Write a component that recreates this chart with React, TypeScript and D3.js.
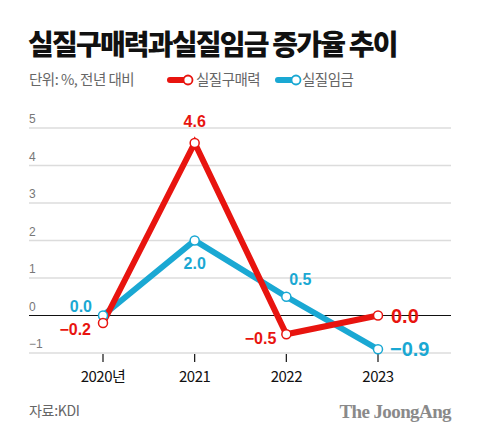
import React from "react";
import * as d3 from "d3";

const years = ["2020년", "2021", "2022", "2023"];
const purchasingPower = [-0.2, 4.6, -0.5, 0.0];
const realWage = [0.0, 2.0, 0.5, -0.9];
const yTicks = [-1, 0, 1, 2, 3, 4, 5];

const RED = "#e8140f";
const BLUE = "#1aa8d3";

const W = 480, H = 439;
const left = 29, right = 451;

export default function App() {
  const x = d3.scalePoint<string>().domain(years).range([103, 378]);
  const y = d3.scaleLinear().domain([-1, 5]).range([353, 128]);
  const line = d3.line<number>().x((_, i) => x(years[i])!).y((d) => y(d));

  const font = "'Noto Sans CJK KR', 'Noto Sans', sans-serif";

  const redLabels = [
    { dx: -12, dy: 12, anchor: "end", size: 16 },
    { dx: 0, dy: -16, anchor: "middle", size: 16 },
    { dx: -10, dy: 10, anchor: "end", size: 16 },
    { dx: 13, dy: 7, anchor: "start", size: 20 },
  ];
  const blueLabels = [
    { dx: -11, dy: -4, anchor: "end", size: 16 },
    { dx: 0, dy: 28, anchor: "middle", size: 16 },
    { dx: 14, dy: -12, anchor: "middle", size: 16 },
    { dx: 12, dy: 7, anchor: "start", size: 20 },
  ];
  const fmt = (v: number) => (v < 0 ? "\u2212" + Math.abs(v).toFixed(1) : v.toFixed(1));

  return (
    <svg width={W} height={H} style={{ position: "absolute", left: 0, top: 0, background: "#fff" }} fontFamily={font}>
      <rect width={W} height={H} fill="#fff" />
      <text x={28} y={55} fontSize={28} fontWeight={900} letterSpacing={-1.8} fill="#111">
        실질구매력과실질임금 증가율 추이
      </text>
      <text x={29} y={85} fontSize={14.5} fill="#666" letterSpacing={-0.5}>단위: %, 전년 대비</text>
      <line x1={170} x2={185} y1={80} y2={80} stroke={RED} strokeWidth={6} strokeLinecap="round" />
      <circle cx={188} cy={80} r={4.5} fill="#fff" stroke={RED} strokeWidth={1.8} />
      <text x={196} y={85} fontSize={14.5} fill="#666" letterSpacing={-0.5}>실질구매력</text>
      <line x1={278} x2={293} y1={80} y2={80} stroke={BLUE} strokeWidth={6} strokeLinecap="round" />
      <circle cx={296} cy={80} r={4.5} fill="#fff" stroke={BLUE} strokeWidth={1.8} />
      <text x={302} y={85} fontSize={14.5} fill="#666" letterSpacing={-0.5}>실질임금</text>

      {yTicks.map((t) => (
        <g key={t}>
          <line x1={left} x2={right} y1={y(t)} y2={y(t)} stroke={t === 0 ? "#111" : "#dcdcdc"} strokeWidth={t === 0 ? 1.2 : 1.6} />
          <text x={29} y={y(t) - 5} fontSize={12} fill="#777" fontFamily="'Liberation Sans', Arial, sans-serif">
            {t < 0 ? "\u2212" + Math.abs(t) : t}
          </text>
        </g>
      ))}
      {years.map((yr) => (
        <g key={yr}>
          <line x1={x(yr)} x2={x(yr)} y1={354} y2={362} stroke="#111" strokeWidth={1.2} />
          <text x={x(yr)} y={382} fontSize={15} textAnchor="middle" fill="#111" letterSpacing={-0.5}>{yr}</text>
        </g>
      ))}

      <path d={line(realWage)!} fill="none" stroke={BLUE} strokeWidth={6} strokeLinejoin="miter" />
      <path d={line(purchasingPower)!} fill="none" stroke={RED} strokeWidth={6} strokeLinejoin="miter" />
      {realWage.map((v, i) => (
        <circle key={"b" + i} cx={x(years[i])} cy={y(v)} r={4.5} fill="#fff" stroke={BLUE} strokeWidth={1.5} />
      ))}
      {purchasingPower.map((v, i) => (
        <circle key={"r" + i} cx={x(years[i])} cy={y(v)} r={4.5} fill="#fff" stroke={RED} strokeWidth={1.5} />
      ))}
      {purchasingPower.map((v, i) => (
        <text key={"rl" + i} x={x(years[i])! + redLabels[i].dx} y={y(v) + redLabels[i].dy} textAnchor={redLabels[i].anchor as any}
          fontSize={redLabels[i].size} fontWeight={700} fill={RED} fontFamily="'Liberation Sans', Arial, sans-serif">
          {fmt(v)}
        </text>
      ))}
      {realWage.map((v, i) => (
        <text key={"bl" + i} x={x(years[i])! + blueLabels[i].dx} y={y(v) + blueLabels[i].dy} textAnchor={blueLabels[i].anchor as any}
          fontSize={blueLabels[i].size} fontWeight={700} fill={BLUE} fontFamily="'Liberation Sans', Arial, sans-serif">
          {fmt(v)}
        </text>
      ))}

      <text x={29} y={416} fontSize={14} fill="#666" letterSpacing={-0.3}>자료:KDI</text>
      <text x={451} y={418} fontSize={19} textAnchor="end" fontWeight={700} fill="#8a8a8a" fontFamily="'Liberation Serif', 'DejaVu Serif', serif" letterSpacing={-0.6}>
        The JoongAng
      </text>
    </svg>
  );
}
